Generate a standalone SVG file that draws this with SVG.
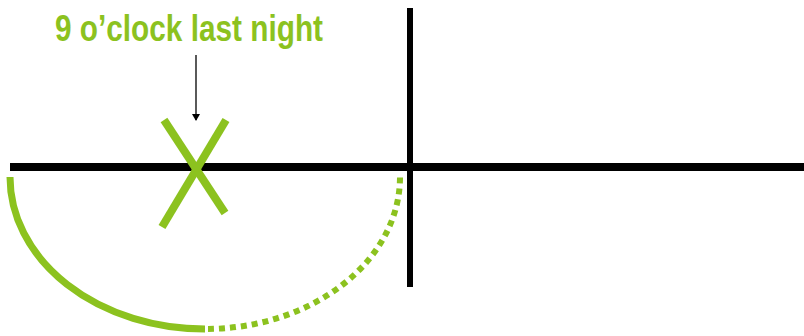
<svg xmlns="http://www.w3.org/2000/svg" width="804" height="336" viewBox="0 0 804 336">
<style>
.axis{stroke:#000;fill:none}
.green{stroke:#8cc21f;fill:none}
.lbl{font-family:"Liberation Sans",Arial,sans-serif;font-weight:bold;fill:#8cc21f}
</style>
<defs>
<marker id="ah" markerWidth="8" markerHeight="8" refX="6" refY="4" orient="auto" markerUnits="userSpaceOnUse">
<path d="M0,0 L7,4 L0,8 z" fill="#000"/>
</marker>
</defs>
<rect width="804" height="336" fill="#fff"/>
<g id="axes">
<line class="axis" x1="10" y1="167" x2="804" y2="167" stroke-width="8"/>
<line class="axis" x1="410" y1="8" x2="410" y2="287" stroke-width="6"/>
</g>
<g id="label">
<text class="lbl" x="55" y="41" font-size="36" textLength="268" lengthAdjust="spacingAndGlyphs">9 o’clock last night</text>
</g>
<g id="connectors">
<line x1="196" y1="55" x2="196" y2="120" stroke="#000" stroke-width="1.3" marker-end="url(#ah)"/>
</g>
<g id="cross">
<line class="green" x1="164" y1="120" x2="225" y2="213" stroke-width="8"/>
<line class="green" x1="226" y1="120" x2="162" y2="227" stroke-width="8"/>
</g>
<g id="arcs">
<path class="green" d="M10,177 A195,152 0 0 0 205,329" stroke-width="7"/>
<path class="green" d="M208,329 A195,152 0 0 0 400,177" stroke-width="6" stroke-dasharray="6 5"/>
</g>
</svg>
